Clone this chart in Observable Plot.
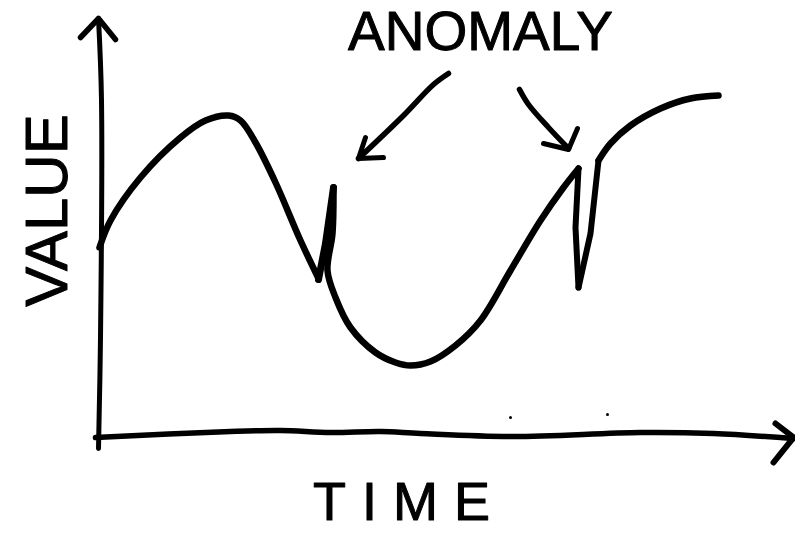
<!DOCTYPE html>
<html>
<head>
<meta charset="utf-8">
<script src="https://cdn.jsdelivr.net/npm/d3@7"></script>
<script src="https://cdn.jsdelivr.net/npm/@observablehq/plot@0.6"></script>
<style>html,body{margin:0;padding:0;background:#fff}svg{display:block}.spaced text{letter-spacing:16px}</style>
</head>
<body>
<div id="chart"></div>
<script>
// Sketched series, in chart units (time from the origin, value above the time axis)
const riseTime = [1,12,42,82,107,130,142,157,177,202,220];
const riseValue = [190,217,260,300,317,322,317,295,255,197,159];
const spikeUpTime = [220,227,235];
const spikeUpValue = [158,194,250];
const valleyTime = [235,234,229,237,252,277,297,312,332,357,382,412,442,465,480];
const valleyValue = [250,204,167,140,110,85,75,72,76,92,117,167,217,250,269];
const dipDownTime = [480,477,480];
const dipDownValue = [269,210,150];
const dipUpTime = [480,492,500];
const dipUpValue = [150,204,277];
const plateauTime = [500,512,532,562,592,620];
const plateauValue = [277,294,312,329,339,342];

// Hand-drawn axes and arrows
const yAxisTime = [0,2,3,0];
const yAxisValue = [-11,100,337,419];
const yHeadTime = [-18,0,17];
const yHeadValue = [400,419,398];
const xAxisTime = [-3,132,182,232,282,322,415,542,615,695];
const xAxisValue = [0,6,7,5,6,4,1,5,4,-1];
const xHeadTime = [677,695,675];
const xHeadValue = [14,0,-25];
const leftArrowTime = [350,335,305,260];
const leftArrowValue = [364,353,322,279];
const leftHeadTime = [267,260,285];
const leftHeadValue = [300,279,280];
const rightArrowTime = [421,430,450,470];
const rightArrowValue = [348,333,310,289];
const rightHeadTime = [445,470,479];
const rightHeadValue = [294,288,309];

// Labels
const labelText = ["ANOMALY","TIME","VALUE"];
const labelTime = [382,311,-51];
const labelValue = [405,-65,227];
const labelRotate = [0,0,-90];
const labelSize = [55,54,60];
const labelClass = ["plain","spaced","plain"];

// Specks on the paper
const speckTime = [412,509];
const speckValue = [20,23];

const pts = (t,v) => t.map((d,i)=>({t:d,v:v[i]}));
const ink = "#000";
const smooth = (t,v,w) => Plot.line(pts(t,v),{x:"t",y:"v",curve:"catmull-rom",stroke:ink,strokeWidth:w,strokeLinecap:"round",strokeLinejoin:"round"});
const sharp = (t,v,w) => Plot.line(pts(t,v),{x:"t",y:"v",curve:"linear",stroke:ink,strokeWidth:w,strokeLinecap:"round",strokeLinejoin:"round"});

const labelMarks = labelText.map((s,i)=>Plot.text([s],{
  x:()=>labelTime[i], y:()=>labelValue[i], text:d=>d,
  fontSize:labelSize[i], rotate:labelRotate[i],
  fontFamily:"Liberation Sans", fill:ink, stroke:ink, strokeWidth:1, textAnchor:"middle", lineAnchor:"middle",
  className:labelClass[i]
}));

const chart = Plot.plot({
  width:795, height:534,
  marginTop:0, marginRight:0, marginBottom:0, marginLeft:0,
  style:{background:"#fff",overflow:"visible"},
  x:{domain:[-98,697],axis:null},
  y:{domain:[-97,437],axis:null},
  marks:[
    smooth(yAxisTime,yAxisValue,5),
    sharp(yHeadTime,yHeadValue,5.5),
    smooth(xAxisTime,xAxisValue,5.5),
    sharp(xHeadTime,xHeadValue,6),
    smooth(riseTime,riseValue,6.5),
    sharp(spikeUpTime,spikeUpValue,7),
    smooth(valleyTime,valleyValue,6.5),
    sharp(dipDownTime,dipDownValue,6),
    sharp(dipUpTime,dipUpValue,6),
    smooth(plateauTime,plateauValue,6.5),
    smooth(leftArrowTime,leftArrowValue,5.5),
    sharp(leftHeadTime,leftHeadValue,5),
    smooth(rightArrowTime,rightArrowValue,5.5),
    sharp(rightHeadTime,rightHeadValue,5),
    Plot.dot(pts(speckTime,speckValue),{x:"t",y:"v",r:1.5,fill:ink}),
    ...labelMarks
  ]
});
document.getElementById("chart").appendChild(chart);
</script>
</body>
</html>
